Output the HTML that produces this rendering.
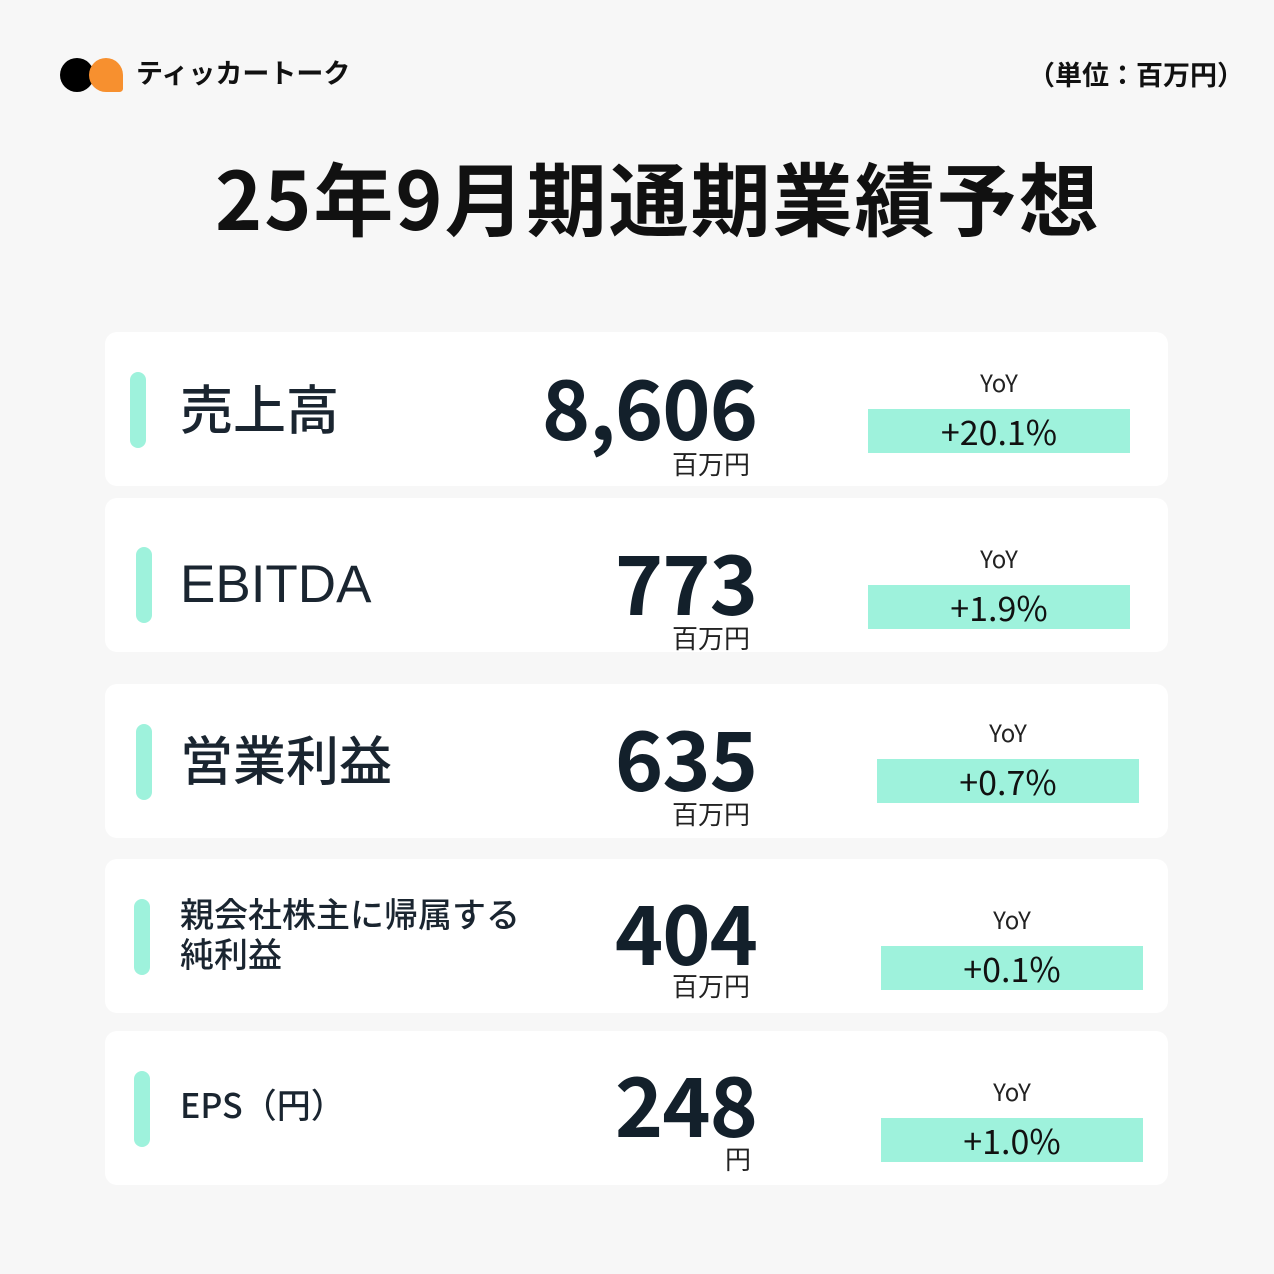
<!DOCTYPE html>
<html><head><meta charset="utf-8"><style>
body{margin:0;width:1274px;height:1274px;background:#f7f7f7;position:relative;overflow:hidden;font-family:"Noto Sans CJK JP","Liberation Sans",sans-serif;color:#111}
.a{position:absolute}
.card{position:absolute;left:105px;width:1063px;height:154px;background:#fff;border-radius:12px}
.bar{position:absolute;width:16px;height:76px;background:#9ef2dc;border-radius:8px}
.lab{position:absolute;left:180px;font-size:53px;color:#1a2530;font-weight:500;line-height:1}
.val{position:absolute;right:517px;font-size:82px;font-weight:700;color:#13202b;line-height:1;letter-spacing:-1px}
.unit{position:absolute;font-size:26px;color:#222;line-height:1}
.yoy{position:absolute;font-size:24px;width:262px;text-align:center;line-height:1;color:#222}
.box{position:absolute;width:262px;height:44px;background:#9ef2dc;font-size:34px;text-align:center;line-height:44px;color:#111}
</style></head><body>
<div class="a" style="left:60px;top:58px;width:34px;height:34px;border-radius:50%;background:#000"></div>
<div class="a" style="left:89px;top:58px;width:34px;height:34px;border-radius:50% 50% 10% 50%;background:#f7902f"></div>
<div class="a" style="left:136px;top:58px;font-size:27px;font-weight:700;line-height:1">ティッカートーク</div>
<div class="a" style="left:1028px;top:60px;font-size:27px;font-weight:700;line-height:1">（単位：百万円）</div>
<div class="a" style="left:215px;top:156px;font-size:80px;font-weight:700;line-height:1;letter-spacing:2px;white-space:nowrap">25年9月期通期業績予想</div>

<div class="card" style="top:332px"></div>
<div class="bar" style="left:130px;top:372px"></div>
<div class="lab" style="top:381px">売上高</div>
<div class="val" style="top:364px">8,606</div>
<div class="unit" style="left:672px;top:451px">百万円</div>
<div class="yoy" style="left:868px;top:370px">YoY</div>
<div class="box" style="left:868px;top:409px">+20.1%</div>

<div class="card" style="top:498px"></div>
<div class="bar" style="left:136px;top:547px"></div>
<div class="lab" style="top:558px;font-family:'Liberation Sans',sans-serif;font-weight:400">EBITDA</div>
<div class="val" style="top:539px">773</div>
<div class="unit" style="left:672px;top:625px">百万円</div>
<div class="yoy" style="left:868px;top:546px">YoY</div>
<div class="box" style="left:868px;top:585px">+1.9%</div>

<div class="card" style="top:684px"></div>
<div class="bar" style="left:136px;top:724px"></div>
<div class="lab" style="top:732px">営業利益</div>
<div class="val" style="top:715px">635</div>
<div class="unit" style="left:672px;top:801px">百万円</div>
<div class="yoy" style="left:877px;top:720px">YoY</div>
<div class="box" style="left:877px;top:759px">+0.7%</div>

<div class="card" style="top:859px"></div>
<div class="bar" style="left:134px;top:899px"></div>
<div class="lab" style="top:893px;font-size:34px;line-height:40px">親会社株主に帰属する<br>純利益</div>
<div class="val" style="top:889px">404</div>
<div class="unit" style="left:672px;top:973px">百万円</div>
<div class="yoy" style="left:881px;top:907px">YoY</div>
<div class="box" style="left:881px;top:946px">+0.1%</div>

<div class="card" style="top:1031px"></div>
<div class="bar" style="left:134px;top:1071px"></div>
<div class="lab" style="top:1087px;font-size:34px">EPS（円）</div>
<div class="val" style="top:1061px">248</div>
<div class="unit" style="left:725px;top:1146px">円</div>
<div class="yoy" style="left:881px;top:1079px">YoY</div>
<div class="box" style="left:881px;top:1118px">+1.0%</div>
</body></html>
